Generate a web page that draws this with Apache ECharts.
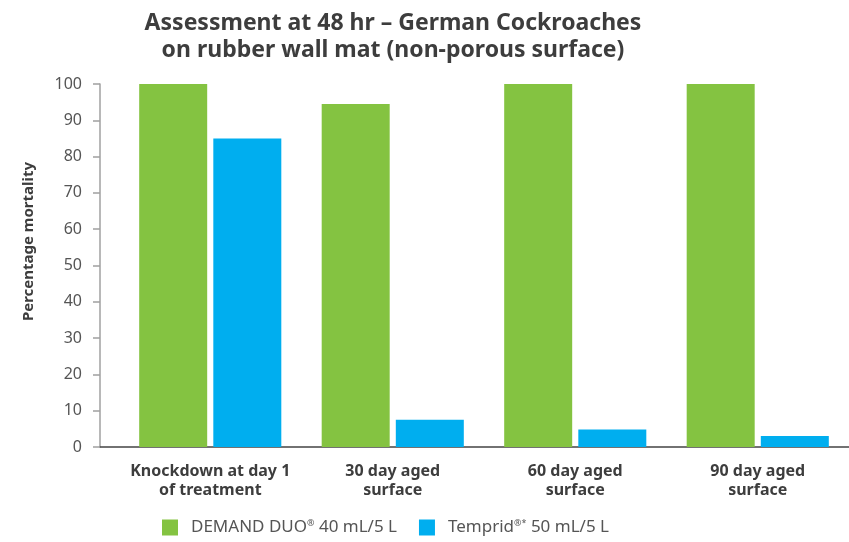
<!DOCTYPE html>
<html>
<head>
<meta charset="utf-8">
<script src="https://cdn.jsdelivr.net/npm/echarts@6/dist/echarts.min.js"></script>
<style>
html,body{margin:0;padding:0;background:#fff;}
#chart{width:849px;height:542px;}
</style>
</head>
<body>
<div id="chart"></div>
<script>
const categories = ['Knockdown at day 1\nof treatment', '30 day aged\nsurface', '60 day aged\nsurface', '90 day aged\nsurface'];
const demandDuo = [100, 94.5, 100, 100];
const temprid = [85, 7.5, 4.8, 3];
const yTicks = [0, 10, 20, 30, 40, 50, 60, 70, 80, 90, 100];

const chart = echarts.init(document.getElementById('chart'));
const font = 'Noto Sans';
chart.setOption({
  animation: false,
  backgroundColor: '#fff',
  title: {
    text: 'Assessment at 48 hr – German Cockroaches\non rubber wall mat (non-porous surface)',
    left: 388, top: 5, textAlign: 'center',
    textStyle: { fontFamily: font, fontWeight: 'bold', fontSize: 23, lineHeight: 27, color: '#3d3d3d' }
  },
  legend: {
    bottom: 1, left: 157,
    itemWidth: 16, itemHeight: 16, itemGap: 22,
    icon: 'rect',
    textStyle: {
      fontFamily: font, fontSize: 17, color: '#555', padding: [0, 0, 0, 8],
      rich: { sup: { fontSize: 9, verticalAlign: 'top', padding: [0, 0, 9, 0], color: '#555', fontFamily: font } }
    },
    formatter: function (n) {
      if (n === 'DEMAND DUO') return 'DEMAND DUO{sup|®} 40 mL/5 L';
      return 'Temprid{sup|®*} 50 mL/5 L';
    },
    data: ['DEMAND DUO', 'Temprid']
  },
  grid: [
    { left: 100, right: 0, top: 84, bottom: 95 },
    { left: 119, right: -2, top: 84, bottom: 95 }
  ],
  xAxis: [
    { gridIndex: 0, type: 'category', data: categories,
      axisLine: { show: true, lineStyle: { color: '#444', width: 1.5 } },
      axisTick: { show: false }, axisLabel: { show: false } },
    { gridIndex: 1, type: 'category', data: categories,
      axisLine: { show: false }, axisTick: { show: false },
      axisLabel: { interval: 0, fontFamily: font, fontWeight: 'bold', fontSize: 16, lineHeight: 19, color: '#3d3d3d', margin: 15 } }
  ],
  yAxis: [
    { gridIndex: 0, type: 'value', min: yTicks[0], max: yTicks[yTicks.length - 1], interval: 10,
      name: 'Percentage mortality', nameLocation: 'middle', nameGap: 64,
      nameTextStyle: { fontFamily: font, fontWeight: 'bold', fontSize: 15, color: '#3d3d3d', padding: [0, 0, 0, 48] },
      axisLine: { show: true, lineStyle: { color: '#a0a0a0', width: 1.5 } },
      axisTick: { show: true, length: 7, lineStyle: { color: '#a0a0a0', width: 1.5 } },
      axisLabel: { fontFamily: font, fontSize: 16, color: '#555', margin: 18 },
      splitLine: { show: false } },
    { gridIndex: 1, type: 'value', min: yTicks[0], max: yTicks[yTicks.length - 1], interval: 10,
      show: false, splitLine: { show: false } }
  ],
  series: [
    { name: 'DEMAND DUO', type: 'bar', xAxisIndex: 1, yAxisIndex: 1, data: demandDuo,
      barWidth: 68, barGap: '9%', itemStyle: { color: '#84c341' } },
    { name: 'Temprid', type: 'bar', xAxisIndex: 1, yAxisIndex: 1, data: temprid,
      barWidth: 68, barGap: '9%', itemStyle: { color: '#00aeef' } }
  ]
});
</script>
</body>
</html>
